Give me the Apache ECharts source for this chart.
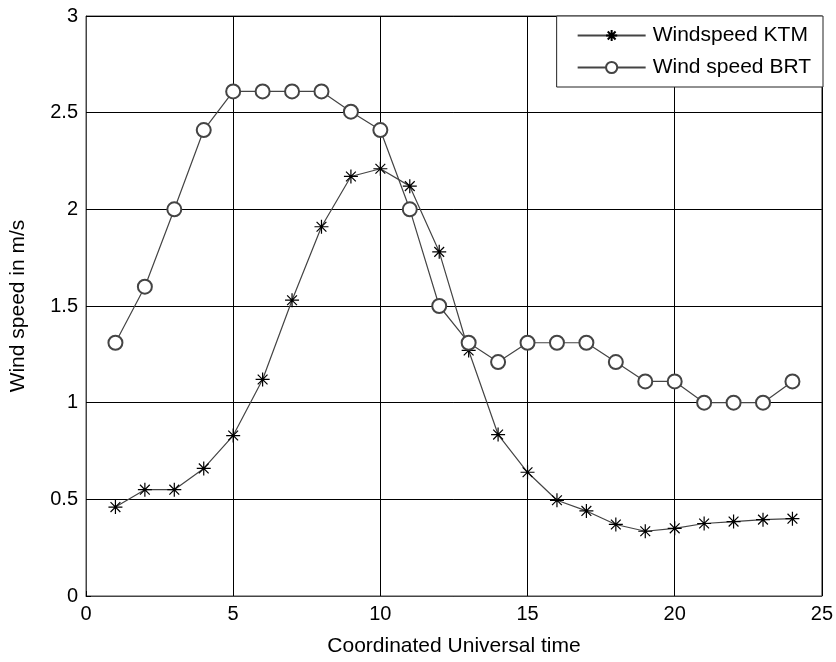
<!DOCTYPE html>
<html>
<head>
<meta charset="utf-8">
<script src="https://cdn.jsdelivr.net/npm/echarts@6/dist/echarts.min.js"></script>
<style>
  body { margin: 0; background: #fff; }
  #chart { width: 836px; height: 662px; }
</style>
</head>
<body>
<div id="chart"></div>
<script>
// 数据
const hours = [1, 2, 3, 4, 5, 6, 7, 8, 9, 10, 11, 12, 13, 14, 15, 16, 17, 18, 19, 20, 21, 22, 23, 24];
const ktm = [0.46, 0.55, 0.55, 0.66, 0.83, 1.12, 1.53, 1.91, 2.17, 2.21, 2.12, 1.78, 1.27, 0.835, 0.64, 0.495, 0.44, 0.37, 0.335, 0.35, 0.375, 0.385, 0.395, 0.40];
const brt = [1.31, 1.60, 2.0, 2.41, 2.61, 2.61, 2.61, 2.61, 2.505, 2.41, 2.0, 1.5, 1.31, 1.21, 1.31, 1.31, 1.31, 1.21, 1.11, 1.11, 1.0, 1.0, 1.0, 1.11];

const starPath = 'path://M0,5L10,5M5,0L5,10M1.5,1.5L8.5,8.5M1.5,8.5L8.5,1.5';
const font = 'Liberation Sans, Arial, sans-serif';

let myChart = echarts.init(document.getElementById('chart'));
myChart.setOption({
  animation: false,
  backgroundColor: '#fff',
  grid: {
    left: 85, right: 12, top: 16, bottom: 63,
    show: true,
    borderColor: '#444',
    borderWidth: 1,
  },
  legend: {
    right: 13,
    top: 16,
    orient: 'vertical',
    backgroundColor: '#fff',
    borderColor: '#222',
    borderWidth: 1,
    padding: [9, 12, 9, 20],
    itemGap: 11,
    itemWidth: 68,
    itemHeight: 14,
    textStyle: { fontFamily: font, fontSize: 21, color: '#000', padding: [0, 0, 0, 2] },
    data: ['Windspeed KTM', 'Wind speed BRT'],
  },
  xAxis: {
    type: 'value',
    min: 0, max: 25, interval: 5,
    name: 'Coordinated Universal time',
    nameLocation: 'middle',
    nameGap: 40,
    nameTextStyle: { fontFamily: font, fontSize: 21, color: '#000' },
    axisLine: { lineStyle: { color: '#444', width: 1 } },
    axisTick: { inside: true, length: 5, lineStyle: { color: '#000' } },
    axisLabel: { fontFamily: font, fontSize: 20, color: '#000', margin: 8 },
    splitLine: { show: true, lineStyle: { color: '#000', width: 1 } },
  },
  yAxis: {
    type: 'value',
    min: 0, max: 3, interval: 0.5,
    name: 'Wind speed in m/s',
    nameLocation: 'middle',
    nameGap: 57,
    nameTextStyle: { fontFamily: font, fontSize: 21, color: '#000' },
    axisLine: { show: true, lineStyle: { color: '#444', width: 1 } },
    axisTick: { show: true, inside: true, length: 5, lineStyle: { color: '#000' } },
    axisLabel: { fontFamily: font, fontSize: 20, color: '#000', margin: 8 },
    splitLine: { show: true, lineStyle: { color: '#000', width: 1 } },
  },
  series: [
    {
      name: 'Windspeed KTM',
      type: 'line',
      data: hours.map((h, i) => [h, ktm[i]]),
      symbol: starPath,
      symbolSize: 14,
      lineStyle: { color: '#444', width: 1.2 },
      itemStyle: { color: 'none', borderColor: '#000', borderWidth: 1.2 },
    },
    {
      name: 'Wind speed BRT',
      type: 'line',
      data: hours.map((h, i) => [h, brt[i]]),
      symbol: 'emptyCircle',
      symbolSize: 14,
      lineStyle: { color: '#444', width: 1.2 },
      itemStyle: { color: '#444', borderColor: '#333', borderWidth: 1.1 },
    },
  ],
});
</script>
</body>
</html>
